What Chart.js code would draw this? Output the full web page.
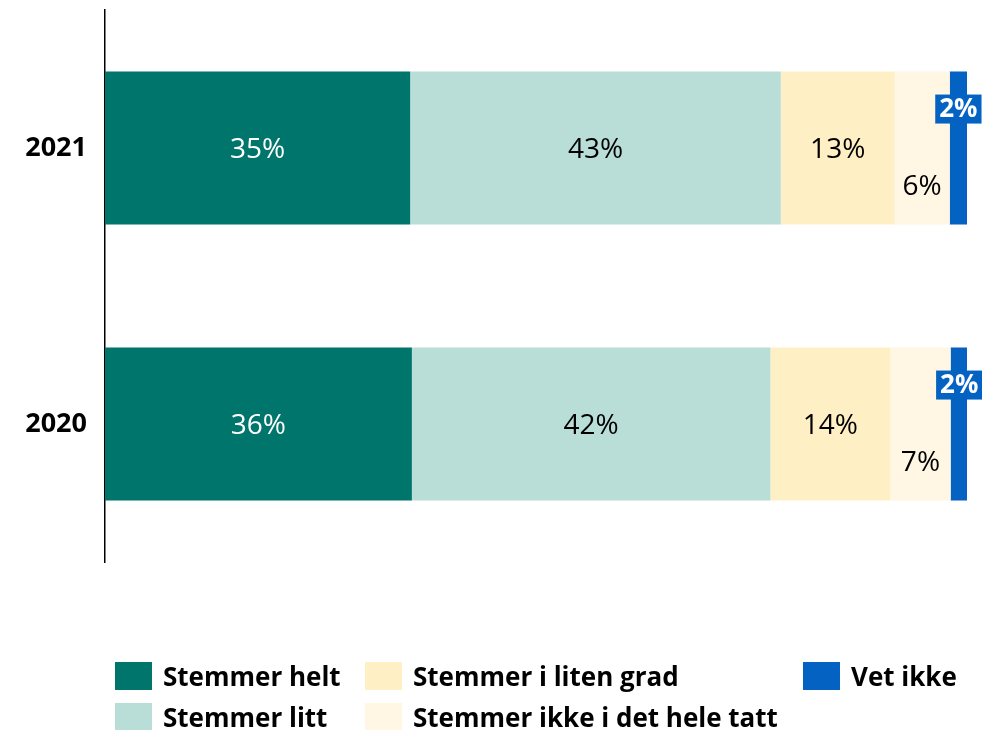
<!DOCTYPE html>
<html>
<head>
<meta charset="utf-8">
<script src="https://cdn.jsdelivr.net/npm/chart.js@4"></script>
<style>
  body { margin: 0; background: #fff; }
  #wrap { position: relative; width: 982px; height: 730px; }
  #legend { position: absolute; left: 0; top: 0; width: 982px; height: 730px; pointer-events: none;
            font-family: "Open Sans", sans-serif; font-weight: bold; font-size: 26px; color: #000; }
  .item { position: absolute; display: flex; align-items: center; white-space: nowrap; line-height: 28px; }
  .box { width: 37px; height: 28px; margin-right: 11px; }
</style>
</head>
<body>
<div id="wrap">
  <canvas id="chart" width="982" height="730"></canvas>
  <div id="legend"></div>
</div>
<script>
var years = ['2021', '2020']
var seriesNames = ['Stemmer helt', 'Stemmer litt', 'Stemmer i liten grad', 'Stemmer ikke i det hele tatt', 'Vet ikke']
var colors = ['#00756b', '#b9ded7', '#ffefc4', '#fff6e3', '#0463c2']
// bar lengths as measured, labels as printed
var helt = [35.4, 35.6]
var litt = [43.0, 41.6]
var litenGrad = [13.2, 13.9]
var ikke = [6.4, 7.0]
var vetIkke = [2.0, 2.0]
var labels = [[35, 36], [43, 42], [13, 14], [6, 7], [2, 2]]

var values = [helt, litt, litenGrad, ikke, vetIkke]

var labelPlugin = {
    id: 'barLabels',
    afterDatasetsDraw: function(chart) {
        var ctx = chart.ctx
        ctx.save()
        ctx.textAlign = 'center'
        ctx.textBaseline = 'middle'
        chart.data.datasets.forEach(function(ds, i) {
            var meta = chart.getDatasetMeta(i)
            meta.data.forEach(function(bar, j) {
                var txt = labels[i][j] + '%'
                var cx = (bar.base + bar.x) / 2
                if (i < 3) {
                    ctx.font = '28px "Open Sans"'
                    ctx.fillStyle = i == 0 ? '#ffffff' : '#000000'
                    ctx.fillText(txt, cx, bar.y + 2)
                } else if (i == 3) {
                    ctx.font = '28px "Open Sans"'
                    ctx.fillStyle = '#000000'
                    ctx.fillText(txt, cx, bar.y + 39)
                } else {
                    ctx.font = 'bold 26px "Open Sans"'
                    var w = ctx.measureText(txt).width + 8
                    var bx = cx - w / 2
                    var by = bar.y - bar.height / 2 + 23
                    ctx.fillStyle = colors[4]
                    ctx.fillRect(bx, by, w, 29)
                    ctx.fillStyle = '#ffffff'
                    ctx.fillText(txt, cx, by + 15)
                }
            })
        })
        ctx.restore()
    }
}

new Chart(document.getElementById('chart'), {
    type: 'bar',
    data: {
        labels: years,
        datasets: seriesNames.map(function(name, i) {
            return {
                label: name,
                data: values[i],
                backgroundColor: colors[i],
                borderWidth: 0,
                barPercentage: 0.554,
                categoryPercentage: 1
            }
        })
    },
    options: {
        indexAxis: 'y',
        responsive: false,
        animation: false,
        layout: { padding: { top: 10, right: 15, bottom: 168, left: 0 } },
        plugins: { legend: { display: false }, tooltip: { enabled: false } },
        scales: {
            x: { stacked: true, min: 0, max: 100, display: false },
            y: {
                stacked: true,
                grid: { display: false, drawTicks: false },
                border: { display: true, color: '#000', width: 1.5 },
                ticks: { color: '#000', padding: 18, font: { family: 'Open Sans', weight: 'bold', size: 27 } },
                afterFit: function(scale) {
                    scale.width = 105
                    scale.paddingTop = 0
                    scale.paddingBottom = 0
                }
            }
        }
    },
    plugins: [labelPlugin]
})

// legend laid out in the same three columns as the original
var legendPos = [[115, 662], [115, 703], [365, 662], [365, 703], [803, 662]]
var legend = document.getElementById('legend')
seriesNames.forEach(function(name, i) {
    var item = document.createElement('div')
    item.className = 'item'
    item.style.left = legendPos[i][0] + 'px'
    item.style.top = legendPos[i][1] + 'px'
    item.innerHTML = '<span class="box" style="background:' + colors[i] + '"></span><span>' + name + '</span>'
    legend.appendChild(item)
})
</script>
</body>
</html>
